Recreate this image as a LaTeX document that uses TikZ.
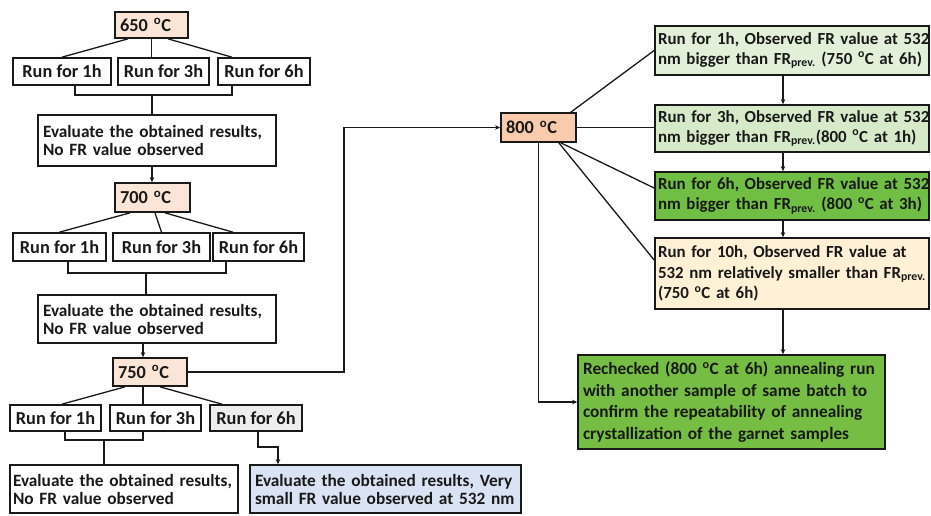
\documentclass[tikz,border=0pt]{standalone}
\usepackage{fontspec}
\setmainfont{Carlito}
\usetikzlibrary{arrows.meta}
\definecolor{peachL}{HTML}{FBE5D6}
\definecolor{peachD}{HTML}{F8CBAD}
\definecolor{greyF}{HTML}{EDEDED}
\definecolor{blueF}{HTML}{DAE3F3}
\definecolor{grA}{HTML}{E2F0D9}
\definecolor{grB}{HTML}{D6EAC9}
\definecolor{grC}{HTML}{70BF44}
\definecolor{creamF}{HTML}{FFF1D6}
\definecolor{grD}{HTML}{76BE43}
\newcommand\oneline[1]{\mbox{#1}}
\begin{document}
\begin{tikzpicture}[x=1pt,y=-1pt,
  box/.style={draw=black!90, line width=1.7pt, inner xsep=4pt, inner ysep=0pt,
    text=black!90, font=\fontsize{17.3}{18}\bfseries\selectfont},
  runbox/.style={box, align=center, minimum height=27pt, font=\fontsize{18.3}{19}\bfseries\selectfont},
  tbox/.style={box, align=left, inner xsep=5pt, font=\fontsize{18.3}{19}\bfseries\selectfont},
  gbox/.style={box, align=left, inner xsep=3pt, minimum width=274pt, text width=268pt,
    font=\fontsize{16.9}{20}\bfseries\selectfont},
  ln/.style={draw=black!90, line width=1.3pt},
  arr/.style={ln, -{Stealth[length=5pt,width=4.5pt]}}]
\useasboundingbox[fill=white] (0,0) rectangle (931,515);

% 650
\node[tbox, fill=peachL, minimum width=73pt, minimum height=26pt, text width=63pt] (t650) at (151.5,25) {\oneline{650 \textsuperscript{o}C}};
\node[runbox, minimum width=98pt] (r1a) at (62,71.5) {Run for 1h};
\node[runbox, minimum width=91pt] (r1b) at (163.5,71.5) {Run for 3h};
\node[runbox, minimum width=92pt] (r1c) at (264,71.5) {Run for 6h};
\node[box, align=left, minimum width=238pt, minimum height=51pt, text width=228pt] (e1) at (157,140.5) {\oneline{Evaluate the obtained results,}\\\oneline{No FR value observed}};

% 700
\node[tbox, fill=peachL, minimum width=75pt, minimum height=29pt, text width=65pt] (t700) at (152.5,197.5) {\oneline{700 \textsuperscript{o}C}};
\node[runbox, minimum width=93pt, minimum height=28pt] (r2a) at (59.5,247) {Run for 1h};
\node[runbox, minimum width=97pt, minimum height=28pt] (r2b) at (161.5,247) {Run for 3h};
\node[runbox, minimum width=91pt, minimum height=28pt] (r2c) at (258.5,247) {Run for 6h};
\node[box, align=left, minimum width=238pt, minimum height=48pt, text width=228pt] (e2) at (157,319) {\oneline{Evaluate the obtained results,}\\\oneline{No FR value observed}};

% 750
\node[tbox, fill=peachL, minimum width=74pt, minimum height=28pt, text width=64pt] (t750) at (150,372) {\oneline{750 \textsuperscript{o}C}};
\node[runbox, minimum width=91pt, minimum height=26pt] (r3a) at (55.5,418) {Run for 1h};
\node[runbox, minimum width=91pt, minimum height=26pt] (r3b) at (155.5,418) {Run for 3h};
\node[runbox, fill=greyF, minimum width=92pt, minimum height=26pt] (r3c) at (256,418) {Run for 6h};
\node[box, align=left, inner xsep=3pt, minimum width=228pt, minimum height=48pt, text width=222pt] (e3) at (124,489) {\oneline{Evaluate the obtained results,}\\\oneline{No FR value observed}};
\node[box, fill=blueF, align=left, minimum width=271pt, minimum height=48pt, text width=261pt] (blue) at (385.5,489) {\oneline{Evaluate the obtained results, Very}\\\oneline{small FR value observed at 532 nm}};

% 800
\node[tbox, fill=peachD, minimum width=75pt, minimum height=29pt, text width=65pt] (t800) at (538.5,127.5) {\oneline{800 \textsuperscript{o}C}};
\node[gbox, fill=grA, minimum height=49pt] (g1) at (792,50.5) {\oneline{Run for 1h, Observed FR value at 532}\\\oneline{nm bigger than FR\textsubscript{prev.} (750 \textsuperscript{o}C at 6h)}};
\node[gbox, fill=grB, minimum height=47pt] (g2) at (792,128.5) {\oneline{Run for 3h, Observed FR value at 532}\\\oneline{nm bigger than FR\textsubscript{prev.}(800 \textsuperscript{o}C at 1h)}};
\node[gbox, fill=grC, minimum height=48pt] (g3) at (792,196) {\oneline{Run for 6h, Observed FR value at 532}\\\oneline{nm bigger than FR\textsubscript{prev.} (800 \textsuperscript{o}C at 3h)}};
\node[gbox, fill=creamF, minimum height=71pt, font=\fontsize{16.9}{20.5}\bfseries\selectfont] (g4) at (792,273.5) {\oneline{Run for 10h, Observed FR value at}\\\oneline{532 nm relatively smaller than FR\textsubscript{prev.}}\\\oneline{(750 \textsuperscript{o}C at 6h)}};
\node[box, fill=grD, align=left, inner xsep=5pt, minimum width=307pt, minimum height=94pt, text width=297pt, font=\fontsize{17.3}{21.5}\bfseries\selectfont] (fin) at (731.5,402) {\oneline{Rechecked (800 \textsuperscript{o}C at 6h) annealing run}\\\oneline{with another sample of same batch to}\\\oneline{confirm the repeatability of annealing}\\\oneline{crystallization of the garnet samples}};

% connectors 650
\draw[ln] ([xshift=-23.5]t650.south) -- (r1a.north);
\draw[ln] (t650.south) -- (t650.south |- r1b.north);
\draw[ln] ([xshift=16.5]t650.south) -- ([xshift=-32]r1c.north);
\coordinate (b1) at (152,95);
\draw[ln] ([xshift=13]r1a.south) |- (b1) -| ([xshift=-32]r1c.south);
\draw[ln] (b1) -- (b1 |- e1.north);
\coordinate (p1) at ([xshift=-5]e1.south);
\draw[arr] (p1) -- (p1 |- t700.north);

% connectors 700
\draw[ln] ([xshift=-22.5]t700.south) -- (r2a.north);
\draw[ln] ([xshift=2.5]t700.south) -- (r2b.north);
\draw[ln] ([xshift=12.5]t700.south) -- ([xshift=-25.5]r2c.north);
\coordinate (b2) at (146,273);
\draw[ln] ([xshift=8.5]r2a.south) |- (b2) -| ([xshift=-32.5]r2c.south);
\draw[ln] (b2) -- (b2 |- e2.north);
\coordinate (p2) at ([xshift=-14]e2.south);
\draw[arr] (p2) -- (p2 |- t750.north);

% connectors 750
\draw[ln] ([xshift=-25]t750.south) -- ([xshift=6.5]r3a.north);
\draw[ln] ([xshift=-7]t750.south) -- ([xshift=-12.5]r3b.north);
\draw[ln] ([xshift=10]t750.south) -- ([xshift=-34]r3c.north);
\coordinate (b3) at (104,440);
\draw[ln] ([xshift=9.5]r3a.south) |- (b3) -| ([xshift=-12.5]r3b.south);
\draw[ln] (b3) -- (b3 |- e3.north);
\coordinate (q1) at ([xshift=2]r3c.south);
\coordinate (k1) at (270,447);
\draw[arr] (q1) |- (k1) -| ([xshift=-107.5]blue.north);

% 750 -> 800
\coordinate (c1) at (344,372);
\draw[arr] (t750.east) -- (c1) |- (t800.west);
\draw[arr] (t800.south) |- (fin.west);

% 800 -> right boxes
\draw[ln] ([xshift=-6]t800.north east) -- (g1.west);
\draw[ln] (t800.east) -- (t800.east -| g2.west);
\draw[ln] ([xshift=-16]t800.south east) -- ([yshift=8]g3.west);
\draw[ln] ([xshift=-18]t800.south east) -- ([yshift=13.5]g4.west);

\coordinate (d1) at ([xshift=-9]g1.south);
\draw[arr] (d1) -- (d1 |- g2.north);
\coordinate (d2) at ([xshift=-9]g2.south);
\draw[arr] (d2) -- (d2 |- g3.north);
\coordinate (d3) at ([xshift=-9]g3.south);
\draw[arr] (d3) -- (d3 |- g4.north);
\coordinate (d4) at ([xshift=-9]g4.south);
\draw[arr] (d4) -- (d4 |- fin.north);
\end{tikzpicture}
\end{document}
